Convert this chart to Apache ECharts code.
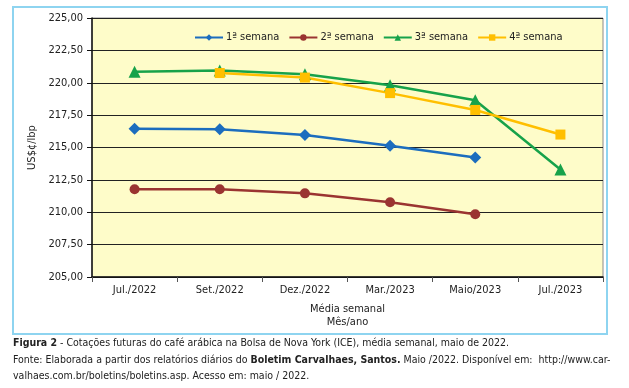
<!DOCTYPE html>
<html><head><meta charset="utf-8">
<script src="https://cdn.jsdelivr.net/npm/echarts@6/dist/echarts.min.js"></script>
<style>html,body{margin:0;padding:0;background:#fff}#c{width:629px;height:388px}</style>
</head><body><div id="c"></div>
<script>
const categories = ['Jul./2022','Set./2022','Dez./2022','Mar./2023','Maio/2023','Jul./2023'];
const semana1 = [216.45, 216.40, 215.97, 215.14, 214.22, null];
const semana2 = [211.77, 211.77, 211.46, 210.77, 209.84, null];
const semana3 = [220.85, 220.95, 220.65, 219.80, 218.65, 213.30];
const semana4 = [null, 220.75, 220.40, 219.20, 217.90, 216.00];
const seriesNames = ['1ª semana','2ª semana','3ª semana','4ª semana'];
const yTicks = {min: 205, max: 225, interval: 2.5};

const FONT = '"DejaVu Sans Condensed","Liberation Sans",sans-serif';
const chart = echarts.init(document.getElementById('c'));
function fmt(v){ return v.toFixed(2).replace('.', ','); }
function mk(name, data, color, symbol, size){
  return {name, type:'line', data, color, symbol, symbolSize:size, connectNulls:false,
    lineStyle:{width:2.5, color}, itemStyle:{color}, emphasis:{disabled:true}, animation:false};
}
chart.setOption({
  backgroundColor:'#fff',
  textStyle:{fontFamily:FONT, color:'#222'},
  grid:{left:92, top:18, right:26, bottom:111, show:true, backgroundColor:'#FEFCC9', borderColor:'#8a8a8a', borderWidth:1},
  legend:{top:27, left:189, itemWidth:28, itemHeight:8, itemGap:9,
    textStyle:{fontFamily:FONT, fontSize:11, color:'#222', padding:[0,0,0,-2]},
    data:seriesNames},
  xAxis:{type:'category', data:categories, boundaryGap:true,
    axisLine:{lineStyle:{color:'#111', width:1.5}},
    axisTick:{show:true, interval:0, length:5, lineStyle:{color:'#555'}},
    axisLabel:{fontFamily:FONT, fontSize:11, color:'#222', margin:8, interval:0},
    name:'Média semanal\nMês/ano', nameLocation:'middle', nameGap:26,
    nameTextStyle:{fontFamily:FONT, fontSize:11, color:'#222', lineHeight:13}},
  yAxis:{type:'value', min:yTicks.min, max:yTicks.max, interval:yTicks.interval,
    axisLine:{show:true, lineStyle:{color:'#111', width:1.5}},
    axisTick:{show:true, length:5, lineStyle:{color:'#111'}},
    axisLabel:{fontFamily:FONT, fontSize:11, color:'#222', margin:9, formatter:fmt},
    splitLine:{lineStyle:{color:'#222', width:1}},
    name:'US$¢/lbp', nameLocation:'middle', nameGap:46, nameRotate:90,
    nameTextStyle:{fontFamily:FONT, fontSize:11, color:'#222'}},
  series:[
    mk(seriesNames[0], semana1, '#1C6DBE', 'diamond', 12),
    mk(seriesNames[1], semana2, '#9A3431', 'circle', 10),
    mk(seriesNames[2], semana3, '#17A24A', 'triangle', 12),
    mk(seriesNames[3], semana4, '#FFBF00', 'rect', 10)
  ],
  graphic:[
    {type:'rect', shape:{x:13, y:7, width:594, height:327}, style:{fill:'none', stroke:'#8ED4F0', lineWidth:2}, z:-1, silent:true},
    {type:'text', left:13, top:338, style:{fontFamily:FONT, fontSize:10.5, fill:'#222',
      text:'{b|Figura 2} - Cotações futuras do café arábica na Bolsa de Nova York (ICE), média semanal, maio de 2022.',
      rich:{b:{fontWeight:'bold', fontFamily:FONT, fontSize:10.5, fill:'#222'}}}},
    {type:'text', left:13, top:355, style:{fontFamily:FONT, fontSize:10.5, fill:'#222',
      text:'Fonte: Elaborada a partir dos relatórios diários do {b|Boletim Carvalhaes, Santos.} Maio /2022. Disponível em:  http://www.car-',
      rich:{b:{fontWeight:'bold', fontFamily:FONT, fontSize:10.5, fill:'#222'}}}},
    {type:'text', left:13, top:371, style:{fontFamily:FONT, fontSize:10.5, fill:'#222',
      text:'valhaes.com.br/boletins/boletins.asp. Acesso em: maio / 2022.'}}
  ]
});
</script></body></html>
